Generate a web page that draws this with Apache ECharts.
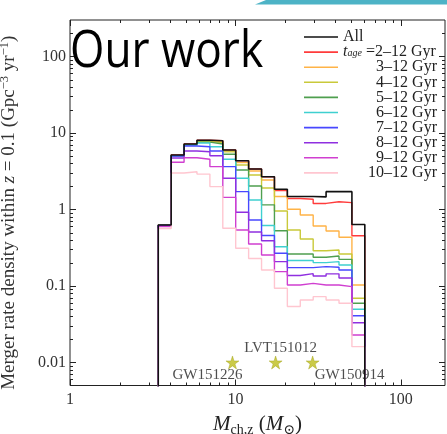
<!DOCTYPE html>
<html>
<head>
<meta charset="utf-8">
<script src="https://cdn.jsdelivr.net/npm/echarts@6/dist/echarts.min.js"></script>
<style>
  html, body { margin: 0; padding: 0; background: #fff; }
  #chart { width: 447px; height: 434px; }
</style>
</head>
<body>
<div id="chart"></div>
<script>
// Chirp-mass bin edges (detector frame, solar masses)
const binEdges = [3.417, 4.089, 4.894, 5.857, 7.011, 8.391, 10.04, 12.02, 14.39,
                  17.22, 20.61, 24.67, 29.53, 35.34, 42.30, 50.63, 60.60];

// Merger rate density per bin (Gpc^-3 yr^-1), one list per host-age band
const ageBands = ['All', '2–12', '3–12', '4–12', '5–12', '6–12', '7–12', '8–12', '9–12', '10–12'];
const rateAll  = [0.627, 5.16, 7.18, 8.03, 7.93, 6.00, 4.34, 3.38, 2.68, 1.84, 1.48, 1.48, 1.46, 1.71, 1.71, 0.637];
const rate2to12 = [0.627, 5.16, 7.18, 8.03, 7.93, 6.00, 4.34, 3.38, 2.68, 1.77, 1.39, 1.36, 1.20, 1.26, 1.23, 0.454];
const rate3to12 = [0.62, 5.05, 7.00, 7.80, 7.70, 5.82, 4.10, 3.19, 2.43, 1.48, 1.006, 0.847, 0.608, 0.524, 0.433, 0.103];
const rate4to12 = [0.62, 5.05, 7.00, 7.70, 7.50, 5.66, 3.82, 2.82, 1.91, 0.956, 0.540, 0.411, 0.289, 0.296, 0.262, 0.069];
const rate5to12 = [0.62, 5.05, 7.00, 7.60, 7.18, 5.27, 3.28, 2.03, 1.15, 0.528, 0.262, 0.262, 0.237, 0.247, 0.223, 0.0594];
const rate6to12 = [0.62, 5.05, 6.95, 7.40, 6.62, 4.53, 2.56, 1.33, 0.618, 0.326, 0.215, 0.215, 0.202, 0.208, 0.188, 0.0496];
const rate7to12 = [0.62, 5.00, 6.76, 6.62, 5.82, 3.63, 1.71, 0.729, 0.457, 0.268, 0.174, 0.174, 0.179, 0.176, 0.162, 0.0409];
const rate8to12 = [0.61, 4.70, 5.82, 5.69, 5.05, 2.56, 0.919, 0.508, 0.391, 0.208, 0.137, 0.145, 0.135, 0.144, 0.127, 0.0331];
const rate9to12 = [0.60, 4.14, 4.75, 4.53, 3.63, 1.44, 0.540, 0.354, 0.254, 0.154, 0.103, 0.108, 0.103, 0.103, 0.098, 0.0229];
const rate10to12 = [0.564, 3.00, 3.12, 2.90, 1.99, 0.568, 0.311, 0.229, 0.162, 0.0933, 0.054, 0.0656, 0.0725, 0.0656, 0.0594, 0.0161];

// Observed events: name, chirp mass, plotting height
const eventNames = ['GW151226', 'LVT151012', 'GW150914'];
const eventMch = [9.6, 17.5, 29.3];
const eventRate = [0.01, 0.01, 0.01];

// Axis ticks and labels
const xMajorTicks = [1, 10, 100];
const xTickLabels = ['1', '10', '100'];
const xMinorTicks = [2, 3, 4, 5, 6, 7, 8, 9, 20, 30, 40, 50, 60, 70, 80, 90];
const yMajorTicks = [0.01, 0.1, 1, 10, 100];
const yTickLabels = ['0.01', '0.1', '1', '10', '100'];
const yMinorTicks = [0.006, 0.007, 0.008, 0.009, 0.02, 0.03, 0.04, 0.05, 0.06, 0.07, 0.08, 0.09,
                     0.2, 0.3, 0.4, 0.5, 0.6, 0.7, 0.8, 0.9, 2, 3, 4, 5, 6, 7, 8, 9,
                     20, 30, 40, 50, 60, 70, 80, 90, 200];
const xRange = [1, 185];
const yRange = [0.005, 300];

// ---- styling ----
const bandRates = [rateAll, rate2to12, rate3to12, rate4to12, rate5to12, rate6to12,
                   rate7to12, rate8to12, rate9to12, rate10to12];
const bandColors = ['#111111', '#ff3b3b', '#ffb347', '#c9c93a', '#4f9f4f', '#3fd0d0',
                    '#4848ff', '#8f2fe0', '#d03fd0', '#ffc6d0'];
const serif = '"Liberation Serif", "DejaVu Serif", serif';
const textColor = '#222';
const floorValue = 1e-4;   // histogram outline drops below the visible range

// Step outline of a histogram: rises at the first edge, falls at the last one
function stepOutline(values) {
  const pts = [[binEdges[0], floorValue]];
  values.forEach((v, i) => pts.push([binEdges[i], v]));
  const last = binEdges[binEdges.length - 1];
  pts.push([last, values[values.length - 1]]);
  pts.push([last, floorValue]);
  return pts;
}

function labelFor(ticks, labels) {
  return function (v) {
    const e = Math.log10(v);
    for (let i = 0; i < ticks.length; i++) {
      if (Math.abs(Math.log10(ticks[i]) - e) < 1e-6) return labels[i];
    }
    return '';
  };
}

// Inward tick marks on all four sides of the frame
function tickSeries(values, isX, len) {
  return {
    type: 'custom',
    silent: true,
    clip: false,
    z: 20,
    data: values.map(v => isX ? [v, yRange[0]] : [xRange[0], v]),
    renderItem: function (params, api) {
      const cs = params.coordSys;
      const p = api.coord([api.value(0), api.value(1)]);
      const st = { stroke: '#222', lineWidth: 1 };
      if (isX) {
        const x = Math.round(p[0]) + 0.5;
        return { type: 'group', children: [
          { type: 'line', shape: { x1: x, y1: cs.y + cs.height, x2: x, y2: cs.y + cs.height - len }, style: st },
          { type: 'line', shape: { x1: x, y1: cs.y, x2: x, y2: cs.y + len }, style: st }
        ]};
      }
      const y = Math.round(p[1]) + 0.5;
      return { type: 'group', children: [
        { type: 'line', shape: { x1: cs.x, y1: y, x2: cs.x + len, y2: y }, style: st },
        { type: 'line', shape: { x1: cs.x + cs.width, y1: y, x2: cs.x + cs.width - len, y2: y }, style: st }
      ]};
    }
  };
}

const starPath = 'path://M50,0 L61.2,34.5 L97.6,34.5 L68.2,55.9 L79.4,90.5 L50,69.1 L20.6,90.5 L31.8,55.9 L2.4,34.5 L38.8,34.5 Z';
const eventLabelOffsets = [[-25, 13], [5, -14], [37, 13]];

const histSeries = ageBands.map((name, i) => ({
  type: 'line',
  name: name,
  data: stepOutline(bandRates[i]),
  step: 'end',
  symbol: 'none',
  showSymbol: false,
  clip: true,
  lineStyle: { color: bandColors[i], width: i === 0 ? 1.6 : 1.4 },
  itemStyle: { color: bandColors[i] },
  z: i === 0 ? 12 : 2 + i,
  animation: false
}));

const eventSeries = {
  type: 'scatter',
  name: 'events',
  symbol: starPath,
  symbolSize: 13,
  z: 15,
  itemStyle: { color: '#bdbd1c', borderColor: '#9d9d10', borderWidth: 0.5 },
  data: eventMch.map((m, i) => ({
    value: [m, eventRate[i]],
    label: {
      show: true,
      position: 'inside',
      offset: eventLabelOffsets[i],
      formatter: eventNames[i],
      fontFamily: serif,
      fontSize: 15,
      color: textColor
    }
  })),
  animation: false
};

const chart = echarts.init(document.getElementById('chart'), null, { renderer: 'canvas' });

chart.setOption({
  animation: false,
  backgroundColor: '#fff',
  grid: {
    left: 70, top: 20, right: 2, bottom: 48.5,
    outerBoundsMode: 'none',
    containLabel: false,
    show: true, borderColor: '#222', borderWidth: 1
  },
  xAxis: {
    type: 'log',
    logBase: 10,
    min: xRange[0],
    max: xRange[1],
    axisLine: { show: false },
    axisTick: { show: false },
    splitLine: { show: false },
    axisLabel: { formatter: labelFor(xMajorTicks, xTickLabels), fontFamily: serif, fontSize: 16, color: '#333', margin: 6 },
    name: '{it|M}{sub|ch,z}{n| (}{it|M}{sub|⊙}{n|)}',
    nameLocation: 'middle',
    nameGap: 26,
    nameTextStyle: {
      rich: {
        it: { fontFamily: serif, fontStyle: 'italic', fontSize: 21, lineHeight: 26, color: textColor },
        n: { fontFamily: serif, fontSize: 21, lineHeight: 26, color: textColor },
        sub: { fontFamily: serif, fontSize: 14, lineHeight: 14, verticalAlign: 'bottom', color: textColor }
      }
    }
  },
  yAxis: {
    type: 'log',
    logBase: 10,
    min: yRange[0],
    max: yRange[1],
    axisLine: { show: false },
    axisTick: { show: false },
    splitLine: { show: false },
    axisLabel: { formatter: labelFor(yMajorTicks, yTickLabels), fontFamily: serif, fontSize: 16, color: '#333', margin: 4 },
    name: '{n|Merger rate density within }{it|z}{n| = 0.1 (Gpc}{sup|−3}{n| yr}{sup|−1}{n|)}',
    nameLocation: 'middle',
    nameGap: 50,
    nameRotate: 90,
    nameTextStyle: {
      padding: [0, 20, 0, 0],
      rich: {
        n: { fontFamily: serif, fontSize: 19, lineHeight: 22, color: '#333' },
        it: { fontFamily: serif, fontStyle: 'italic', fontSize: 19, lineHeight: 22, color: '#333' },
        sup: { fontFamily: serif, fontSize: 12.5, lineHeight: 12, verticalAlign: 'top', color: '#333' }
      }
    }
  },
  legend: {
    data: ageBands,
    orient: 'vertical',
    left: 299,
    top: 24,
    icon: 'rect',
    itemWidth: 34,
    itemHeight: 1.6,
    itemGap: -0.9,
    selectedMode: false,
    formatter: function (name) {
      if (name === 'All') return '{l|All}';
      if (name === '2–12') return '{it|t}{sub|age}{l| =2–12 Gyr}';
      return '{r|' + name + ' Gyr}';
    },
    textStyle: {
      rich: {
        l: { fontFamily: serif, fontSize: 16, lineHeight: 13, color: textColor },
        it: { fontFamily: serif, fontStyle: 'italic', fontSize: 16, lineHeight: 13, color: textColor },
        sub: { fontFamily: serif, fontStyle: 'italic', fontSize: 10, lineHeight: 7, verticalAlign: 'bottom', color: textColor },
        r: { fontFamily: serif, fontSize: 16, lineHeight: 13, width: 94, align: 'right', color: textColor }
      }
    }
  },
  graphic: [
    {
      type: 'polygon',
      silent: true,
      shape: { points: [[266, 0], [447, 0], [447, 4.5], [255, 4.5]] },
      style: { fill: '#4db3c6' }
    },
    {
      type: 'text',
      silent: true,
      x: 70,
      y: 52,
      scaleX: 0.85,
      z: 30,
      style: { text: 'Our work', x: 0, y: 0, font: '52px "Open Sans", "Noto Sans", sans-serif', fill: '#000', align: 'left', verticalAlign: 'middle' }
    }
  ],
  series: histSeries.concat([
    eventSeries,
    tickSeries(xMajorTicks, true, 6),
    tickSeries(xMinorTicks, true, 3),
    tickSeries(yMajorTicks, false, 6),
    tickSeries(yMinorTicks, false, 3)
  ])
});
</script>
</body>
</html>
